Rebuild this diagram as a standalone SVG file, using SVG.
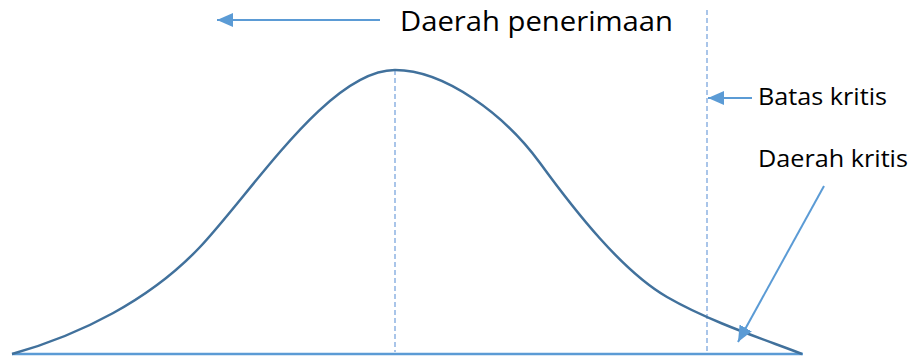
<svg xmlns="http://www.w3.org/2000/svg" width="912" height="360" viewBox="0 0 912 360">
<style>
.curve{fill:none;stroke:#41719C;stroke-width:2.5}
.base{fill:none;stroke:#5B9BD5;stroke-width:2.5}
.dash{fill:none;stroke:#8DB3E2;stroke-width:1.5;stroke-dasharray:5 3}
.arr{fill:none;stroke:#5B9BD5;stroke-width:2;marker-end:url(#ah)}
.lbl{font-family:"Open Sans","Noto Sans",sans-serif;fill:#000}
</style>
<defs>
<marker id="ah" markerUnits="userSpaceOnUse" markerWidth="18" markerHeight="16" refX="16" refY="7" orient="auto">
<path d="M0,0 L16,7 L0,14 z" fill="#5B9BD5"/>
</marker>
</defs>
<g id="chart">
<path class="base" d="M12,354 L803,354"/>
<path class="dash" d="M395,70 L395,352"/>
<path class="dash" d="M707,10 L707,352"/>
<path class="curve" d="M12,354 C80,335 150,300 200,247 C255,188 330,70 395,70 C445,70 505,115 540,163 C575,211 622,271 667,297 C712,323 772,342 802,354"/>
</g>
<g id="connectors">
<path class="arr" d="M380,20 L217,20"/>
<path class="arr" d="M752,98 L708,98"/>
<path class="arr" d="M824,186 L738,342"/>
</g>
<g id="label-penerimaan"><text class="lbl" x="400" y="31" font-size="28" textLength="273" lengthAdjust="spacingAndGlyphs">Daerah penerimaan</text></g>
<g id="label-batas"><text class="lbl" x="758" y="105" font-size="23" textLength="129" lengthAdjust="spacingAndGlyphs">Batas kritis</text></g>
<g id="label-daerah-kritis"><text class="lbl" x="758" y="167" font-size="23" textLength="150" lengthAdjust="spacingAndGlyphs">Daerah kritis</text></g>
</svg>
